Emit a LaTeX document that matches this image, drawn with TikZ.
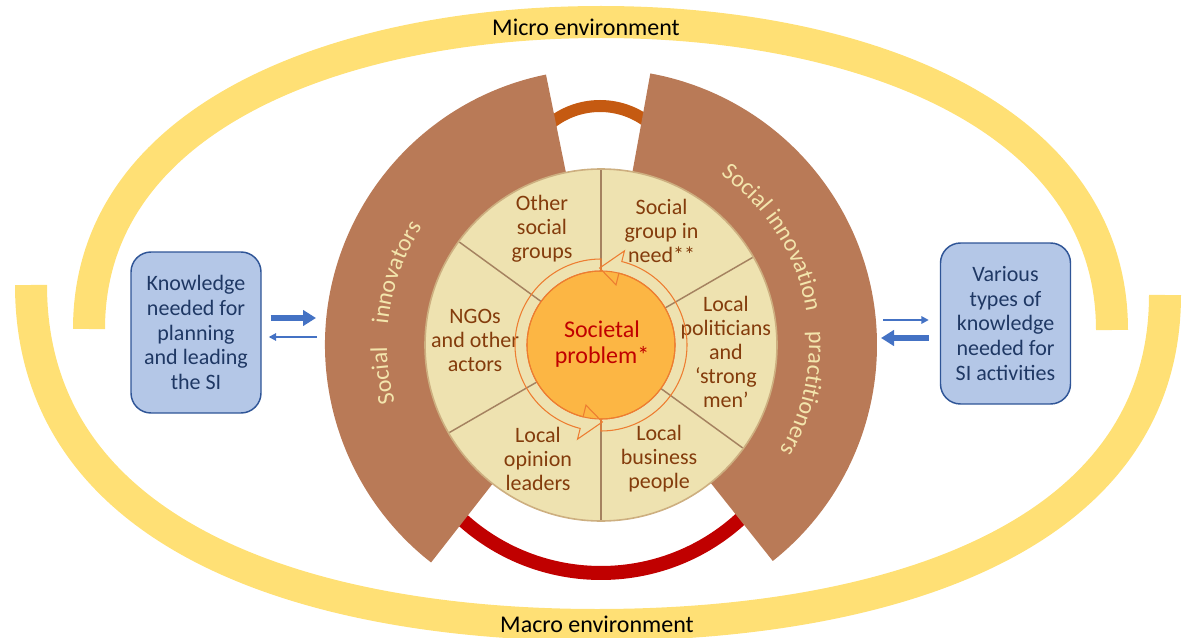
\documentclass[tikz,border=0pt]{standalone}
\usepackage{fontspec}
\setmainfont{Carlito}
\usetikzlibrary{positioning,arrows.meta,decorations.text,calc}

\definecolor{ringyellow}{RGB}{255,224,117}
\definecolor{arcbrown}{RGB}{185,122,87}
\definecolor{wheelfill}{RGB}{238,226,176}
\definecolor{wheelline}{RGB}{165,130,96}
\definecolor{wheelrim}{RGB}{205,175,128}
\definecolor{wheeltext}{RGB}{132,60,12}
\definecolor{coreorange}{RGB}{252,182,68}
\definecolor{cyclecol}{RGB}{237,125,49}
\definecolor{probred}{RGB}{192,0,0}
\definecolor{linkorange}{RGB}{197,90,17}
\definecolor{arctext}{RGB}{243,229,172}
\definecolor{boxfill}{RGB}{180,199,231}
\definecolor{boxline}{RGB}{47,85,151}
\definecolor{boxtext}{RGB}{31,56,100}
\definecolor{arrowblue}{RGB}{68,114,196}

\newcommand\wheelfont{\fontsize{16.5}{18}\selectfont}
\newcommand\arcfont{\fontsize{18}{20}\selectfont}

\begin{document}
\begin{tikzpicture}[
  x=0.75pt, y=0.75pt,
  ring/.style={draw=ringyellow, line width=24pt},
  sector/.style={fill=arcbrown},
  wheel/.style={fill=wheelfill, draw=wheelrim, line width=1.2pt},
  spoke/.style={draw=wheelline, line width=1.1pt},
  seg/.style={text=wheeltext, font=\wheelfont, align=center},
  core/.style={fill=coreorange, draw=cyclecol, line width=0.8pt},
  cyclearrow/.style={draw=cyclecol, line width=0.8pt},
  kbox/.style={draw=boxline, line width=1.1pt, fill=boxfill, rounded corners=15pt,
               minimum width=97.5pt, minimum height=120.75pt, align=center,
               text=boxtext, font=\fontsize{16.5}{18.4}\selectfont},
  fatarrow/.style={draw=arrowblue, line width=4.5pt, -{Triangle[length=9.75pt,width=11.5pt]}},
  thinarrow/.style={draw=arrowblue, line width=1.4pt, -{Triangle[length=5.5pt,width=5.5pt]}},
  envtext/.style={font=\fontsize{18}{20}\selectfont},
  arclabel/.style={decorate, decoration={text along path, text align=center,
               text color=arctext, text={|\arcfont|#1}}}
]

\useasboundingbox (0,0) rectangle (1183,637);
\clip (0,0) rectangle (1183,637);

\coordinate (C) at (601,292);

\draw[ring] (89,308) .. controls (89,523) and (345,615) .. (601,615)
  .. controls (857,615) and (1112,523) .. (1112,307);
\draw[ring] (31,352) .. controls (31,97) and (314,12) .. (597,12)
  .. controls (880,12) and (1165,95) .. (1165,342);

\draw[linkorange, line width=9pt] ($(600,452)+(45:79)$) arc[start angle=45, end angle=135, radius=79];
\draw[probred, line width=10.5pt] ($(601,271)+(226:207)$) arc[start angle=226, end angle=315, radius=207];

\fill[sector] (C) -- ($(C)+(101.5:276)$) arc[start angle=101.5, end angle=232, radius=276] -- cycle;
\fill[sector] (C) -- ($(C)+(-51.5:276)$) arc[start angle=-51.5, end angle=79.7, radius=276] -- cycle;

\path[arclabel={Social}] ($(C)+(200:214)$) arc[start angle=200, end angle=176, radius=214];
\path[arclabel={innovators}] ($(C)+(178:214)$) arc[start angle=178, end angle=143, radius=214];
\path[arclabel={Social innovation}] ($(C)+(60:208)$) arc[start angle=60, end angle=4, radius=208];
\path[arclabel={practitioners}] ($(C)+(10:208)$) arc[start angle=10, end angle=-37, radius=208];

\draw[wheel] (C) circle (176);
\foreach \a in {30,90,144}
  \draw[spoke] ($(C)+(\a:175)$) -- ($(C)+(\a+180:175)$);

\node[seg] (other) at ($(C)+(117:130)$) {Other\\social\\groups};
\node[seg] (need)  at ($(C)+(62:129)$)  {Social\\group in\\need**};
\node[seg] (ngo)   at ($(C)+(178:126)$) {NGOs\\and other\\actors};
\node[seg] (pol)   at ($(C)+(-3:125)$)  {Local\\politicians\\and\\‘strong\\men’};
\node[seg] (opin)  at ($(C)+(241:130)$) {Local\\opinion\\leaders};
\node[seg] (biz)   at ($(C)+(297:128)$) {Local\\business\\people};

\draw[core] (C) circle (74);
\draw[cyclearrow] ($(C)+(90:86)$) arc[start angle=90, end angle=256, radius=86]
  -- ($(C)+(256:97)$) -- ($(C)+(271:77)$) -- ($(C)+(256:62)$) -- ($(C)+(256:74)$)
  arc[start angle=256, end angle=90, radius=74] -- cycle;
\draw[cyclearrow] ($(C)+(270:86)$) arc[start angle=270, end angle=436, radius=86]
  -- ($(C)+(76:97)$) -- ($(C)+(91:77)$) -- ($(C)+(76:62)$) -- ($(C)+(76:74)$)
  arc[start angle=436, end angle=270, radius=74] -- cycle;
\node[text=probred, font=\fontsize{18}{20}\selectfont, align=center] (prob) at ($(C)+(1,1)$) {Societal\\problem*};

\node[kbox] (kl) at (196,304.5) {Knowledge\\needed for\\planning\\and leading\\the SI};
\node[kbox] (kr) at (1005.5,313.5) {Various\\types of\\knowledge\\needed for\\SI activities};

\coordinate (inLeft) at (316,319);
\coordinate (outLeft) at (317,300);
\coordinate (outRight) at (883,317);
\coordinate (inRight) at (881,299);

\draw[fatarrow] ($(kl.east|-inLeft)+(9,0)$) -- (inLeft);
\draw[thinarrow] (outLeft) -- ($(kl.east|-outLeft)+(7,0)$);
\draw[thinarrow] (outRight) -- ($(kr.west|-outRight)+(-11,0)$);
\draw[fatarrow] ($(kr.west|-inRight)+(-11,0)$) -- (inRight);

\node[envtext] (micro) at (586,610) {Micro environment};
\node[envtext] (macro) at (597,13) {Macro environment};

\end{tikzpicture}
\end{document}
